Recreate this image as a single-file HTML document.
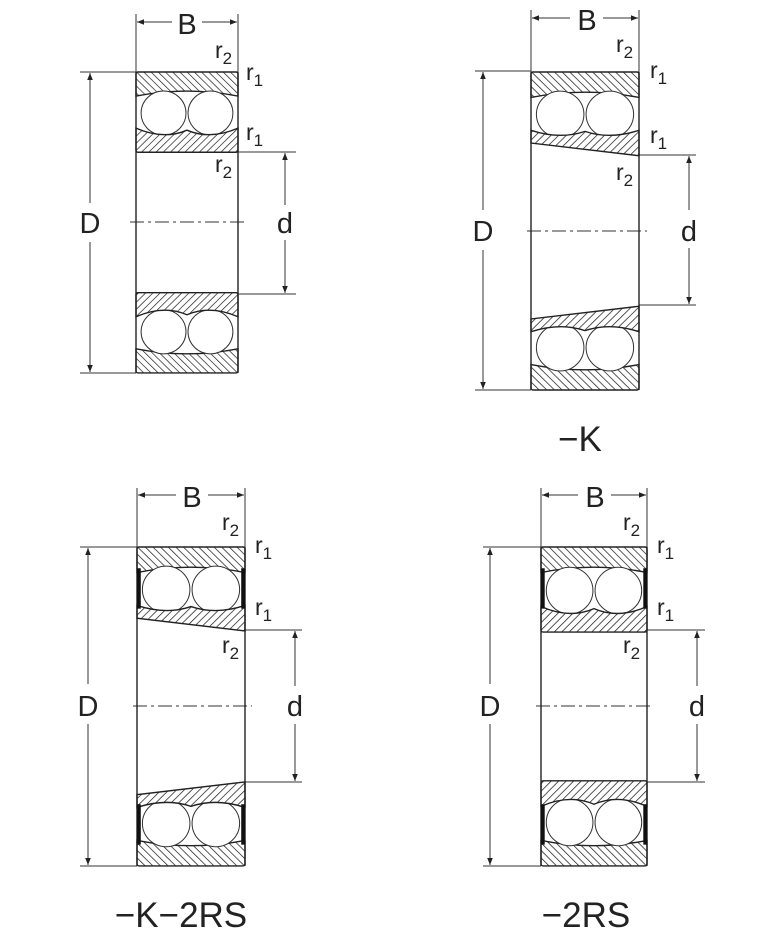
<!DOCTYPE html>
<html><head><meta charset="utf-8"><style>
html,body{margin:0;padding:0;background:#fff}
svg{display:block}
text{font-family:"Liberation Sans","DejaVu Sans",sans-serif;fill:#222}
</style></head><body>
<svg width="784" height="944" viewBox="0 0 784 944" xmlns="http://www.w3.org/2000/svg">
<defs>
<pattern id="pF" patternUnits="userSpaceOnUse" width="5" height="5" patternTransform="rotate(45)">
<rect width="5" height="5" fill="#fff"/><line x1="0" y1="0" x2="0" y2="5" stroke="#222" stroke-width="1.4"/>
</pattern>
<pattern id="pB" patternUnits="userSpaceOnUse" width="5" height="5" patternTransform="rotate(-45)">
<rect width="5" height="5" fill="#fff"/><line x1="0" y1="0" x2="0" y2="5" stroke="#222" stroke-width="1.4"/>
</pattern>
<marker id="a" viewBox="0 0 10 10" refX="10" refY="5" markerWidth="12" markerHeight="7" markerUnits="userSpaceOnUse" orient="auto-start-reverse"><path d="M0,1 L10,5 L0,9 Z" fill="#222"/></marker>
<g id="tS">
<path d="M0,2 Q0,0 2,0 H98 Q100,0 100,2 V24 Q50,14 0,24 Z" fill="url(#pB)" stroke="#222" stroke-width="1.4" vector-effect="non-scaling-stroke"/>
<circle cx="27" cy="41" r="22" fill="#fff" stroke="#333" stroke-width="1" vector-effect="non-scaling-stroke"/>
<circle cx="73" cy="41" r="22" fill="#fff" stroke="#333" stroke-width="1" vector-effect="non-scaling-stroke"/>
<path d="M0,56 Q27,68 50,58 Q73,68 100,56 V78 Q100,80 98,80 H2 Q0,80 0,78 Z" fill="url(#pF)" stroke="#222" stroke-width="1.4" vector-effect="non-scaling-stroke"/>
</g>
<g id="bS">
<path d="M0,2 Q0,0 2,0 H98 Q100,0 100,2 V24 Q50,14 0,24 Z" fill="url(#pF)" stroke="#222" stroke-width="1.4" vector-effect="non-scaling-stroke"/>
<circle cx="27" cy="41" r="22" fill="#fff" stroke="#333" stroke-width="1" vector-effect="non-scaling-stroke"/>
<circle cx="73" cy="41" r="22" fill="#fff" stroke="#333" stroke-width="1" vector-effect="non-scaling-stroke"/>
<path d="M0,56 Q27,68 50,58 Q73,68 100,56 V78 Q100,80 98,80 H2 Q0,80 0,78 Z" fill="url(#pB)" stroke="#222" stroke-width="1.4" vector-effect="non-scaling-stroke"/>
</g>
<g id="tK">
<path d="M0,2 Q0,0 2,0 H98 Q100,0 100,2 V24 Q50,14 0,24 Z" fill="url(#pB)" stroke="#222" stroke-width="1.4" vector-effect="non-scaling-stroke"/>
<circle cx="27" cy="40" r="22" fill="#fff" stroke="#333" stroke-width="1" vector-effect="non-scaling-stroke"/>
<circle cx="73" cy="40" r="22" fill="#fff" stroke="#333" stroke-width="1" vector-effect="non-scaling-stroke"/>
<path d="M0,55 Q27,64 50,56 Q73,64 100,55 V79 L0,67 Z" fill="url(#pF)" stroke="#222" stroke-width="1.4" vector-effect="non-scaling-stroke"/>
</g>
<g id="bK">
<path d="M0,2 Q0,0 2,0 H98 Q100,0 100,2 V24 Q50,14 0,24 Z" fill="url(#pF)" stroke="#222" stroke-width="1.4" vector-effect="non-scaling-stroke"/>
<circle cx="27" cy="40" r="22" fill="#fff" stroke="#333" stroke-width="1" vector-effect="non-scaling-stroke"/>
<circle cx="73" cy="40" r="22" fill="#fff" stroke="#333" stroke-width="1" vector-effect="non-scaling-stroke"/>
<path d="M0,55 Q27,64 50,56 Q73,64 100,55 V79 L0,67 Z" fill="url(#pB)" stroke="#222" stroke-width="1.4" vector-effect="non-scaling-stroke"/>
</g>
<g id="seal">
<rect x="0" y="20" width="3.5" height="38" fill="#111"/>
<rect x="96.5" y="20" width="3.5" height="38" fill="#111"/>
</g>
<g id="sides">
<line x1="0" y1="0" x2="0" y2="300" stroke="#222" stroke-width="1.4" vector-effect="non-scaling-stroke"/>
<line x1="100" y1="0" x2="100" y2="300" stroke="#222" stroke-width="1.4" vector-effect="non-scaling-stroke"/></g>
<g id="brS"><use href="#tS"/><use href="#bS" transform="translate(0,300) scale(1,-1)"/><use href="#sides"/></g>
<g id="brK"><use href="#tK"/><use href="#bK" transform="translate(0,300) scale(1,-1)"/><use href="#sides"/></g>
</defs>

<g stroke="#333" stroke-width="1" fill="none">
<line x1="136" y1="14" x2="136" y2="72"/><line x1="238" y1="14" x2="238" y2="72"/>
<line x1="137" y1="22" x2="172" y2="22" marker-start="url(#a)"/><line x1="202" y1="22" x2="237" y2="22" marker-end="url(#a)"/>
<line x1="80" y1="72" x2="136" y2="72"/><line x1="80" y1="373" x2="136" y2="373"/>
<line x1="90" y1="73" x2="90" y2="203" marker-start="url(#a)"/><line x1="90" y1="242" x2="90" y2="372" marker-end="url(#a)"/>
<line x1="238" y1="152" x2="296" y2="152"/><line x1="238" y1="294" x2="296" y2="294"/>
<line x1="285" y1="153" x2="285" y2="205" marker-start="url(#a)"/><line x1="285" y1="240" x2="285" y2="293" marker-end="url(#a)"/>
<line x1="130" y1="222" x2="245" y2="222" stroke-dasharray="14,4,3,4"/>
<line x1="531" y1="10" x2="531" y2="72"/><line x1="639" y1="10" x2="639" y2="72"/>
<line x1="532" y1="18" x2="570" y2="18" marker-start="url(#a)"/><line x1="603" y1="18" x2="638" y2="18" marker-end="url(#a)"/>
<line x1="475" y1="71" x2="531" y2="71"/><line x1="475" y1="390" x2="531" y2="390"/>
<line x1="483" y1="72" x2="483" y2="210" marker-start="url(#a)"/><line x1="483" y1="250" x2="483" y2="389" marker-end="url(#a)"/>
<line x1="639" y1="155" x2="696" y2="155"/><line x1="639" y1="305" x2="696" y2="305"/>
<line x1="689" y1="156" x2="689" y2="210" marker-start="url(#a)"/><line x1="689" y1="248" x2="689" y2="304" marker-end="url(#a)"/>
<line x1="527" y1="231" x2="647" y2="231" stroke-dasharray="14,4,3,4"/>
<line x1="137" y1="488" x2="137" y2="547"/><line x1="245" y1="488" x2="245" y2="547"/>
<line x1="138" y1="495" x2="176" y2="495" marker-start="url(#a)"/><line x1="208" y1="495" x2="244" y2="495" marker-end="url(#a)"/>
<line x1="80" y1="547" x2="137" y2="547"/><line x1="80" y1="866" x2="137" y2="866"/>
<line x1="88" y1="548" x2="88" y2="684" marker-start="url(#a)"/><line x1="88" y1="724" x2="88" y2="865" marker-end="url(#a)"/>
<line x1="245" y1="630" x2="302" y2="630"/><line x1="245" y1="782" x2="302" y2="782"/>
<line x1="295" y1="631" x2="295" y2="686" marker-start="url(#a)"/><line x1="295" y1="724" x2="295" y2="781" marker-end="url(#a)"/>
<line x1="133" y1="706" x2="252" y2="706" stroke-dasharray="14,4,3,4"/>
<line x1="541" y1="488" x2="541" y2="547"/><line x1="647" y1="488" x2="647" y2="547"/>
<line x1="542" y1="495" x2="578" y2="495" marker-start="url(#a)"/><line x1="611" y1="495" x2="646" y2="495" marker-end="url(#a)"/>
<line x1="483" y1="547" x2="541" y2="547"/><line x1="483" y1="866" x2="541" y2="866"/>
<line x1="490" y1="548" x2="490" y2="684" marker-start="url(#a)"/><line x1="490" y1="724" x2="490" y2="865" marker-end="url(#a)"/>
<line x1="647" y1="630" x2="705" y2="630"/><line x1="647" y1="782" x2="705" y2="782"/>
<line x1="697" y1="631" x2="697" y2="686" marker-start="url(#a)"/><line x1="697" y1="724" x2="697" y2="781" marker-end="url(#a)"/>
<line x1="536" y1="706" x2="653" y2="706" stroke-dasharray="14,4,3,4"/>
</g>

<use href="#brS" transform="translate(136,72) scale(1.02,1.003)"/>
<use href="#brK" transform="translate(531,72) scale(1.08,1.06)"/>
<g transform="translate(137,547) scale(1.08,1.063)"><use href="#brK"/><use href="#seal"/><use href="#seal" transform="translate(0,300) scale(1,-1)"/></g>
<g transform="translate(541,547) scale(1.06,1.063)"><use href="#brS"/><use href="#seal"/><use href="#seal" transform="translate(0,300) scale(1,-1)"/></g>

<g font-size="29" text-anchor="middle">
<text x="187" y="34">B</text><text x="90" y="233">D</text><text x="285" y="233">d</text>
<text x="587" y="30">B</text><text x="483" y="241">D</text><text x="689" y="241">d</text>
<text x="192" y="507">B</text><text x="88" y="716">D</text><text x="295" y="716">d</text>
<text x="595" y="507">B</text><text x="490" y="716">D</text><text x="697" y="716">d</text>
</g>
<g font-size="23">
<text x="215" y="58">r<tspan font-size="17" dy="6">2</tspan></text>
<text x="246" y="80">r<tspan font-size="17" dy="6">1</tspan></text>
<text x="246" y="140">r<tspan font-size="17" dy="6">1</tspan></text>
<text x="215" y="172">r<tspan font-size="17" dy="6">2</tspan></text>
<text x="616" y="52">r<tspan font-size="17" dy="6">2</tspan></text>
<text x="650" y="78">r<tspan font-size="17" dy="6">1</tspan></text>
<text x="650" y="143">r<tspan font-size="17" dy="6">1</tspan></text>
<text x="616" y="180">r<tspan font-size="17" dy="6">2</tspan></text>
<text x="222" y="530">r<tspan font-size="17" dy="6">2</tspan></text>
<text x="255" y="553">r<tspan font-size="17" dy="6">1</tspan></text>
<text x="255" y="615">r<tspan font-size="17" dy="6">1</tspan></text>
<text x="222" y="653">r<tspan font-size="17" dy="6">2</tspan></text>
<text x="623" y="530">r<tspan font-size="17" dy="6">2</tspan></text>
<text x="657" y="553">r<tspan font-size="17" dy="6">1</tspan></text>
<text x="657" y="615">r<tspan font-size="17" dy="6">1</tspan></text>
<text x="623" y="653">r<tspan font-size="17" dy="6">2</tspan></text>
</g>
<g font-size="35" text-anchor="middle">
<text x="580" y="451">−K</text>
<text x="181" y="927">−K−2RS</text>
<text x="586" y="927">−2RS</text>
</g>
</svg>
</body></html>
